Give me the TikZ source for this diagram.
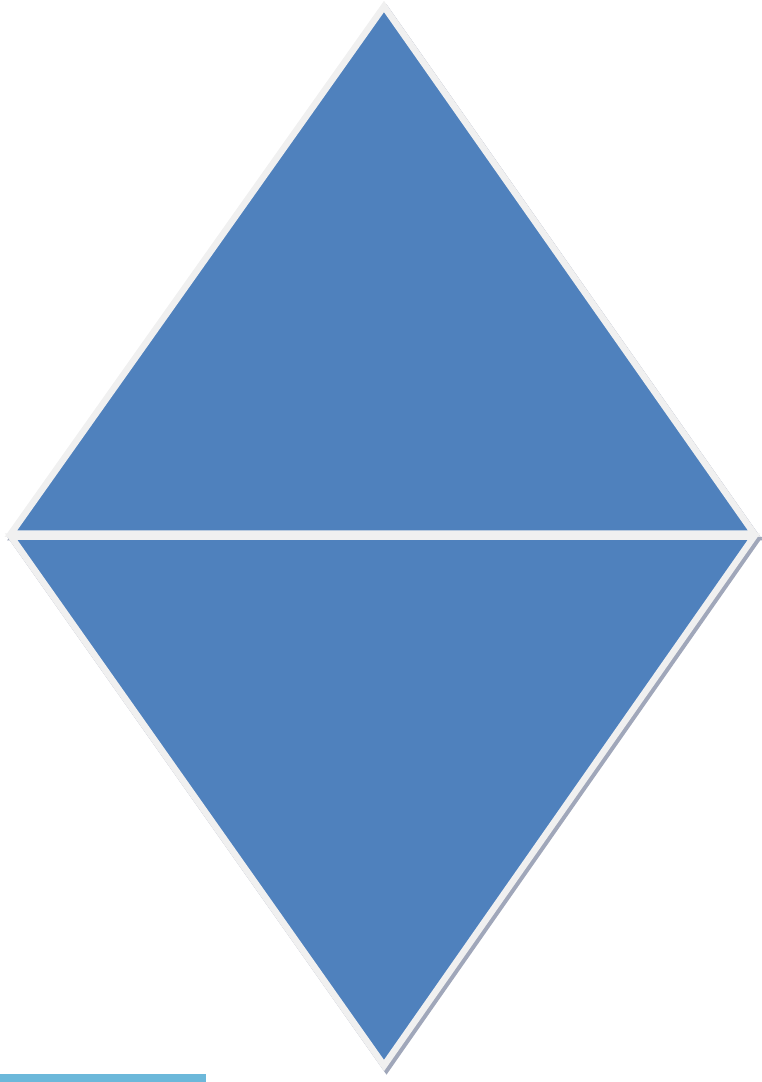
\documentclass[tikz,border=0pt]{standalone}
\definecolor{triblue}{RGB}{79,129,189}
\definecolor{triedge}{RGB}{240,240,240}
\definecolor{trishadow}{RGB}{160,167,186}
\definecolor{barblue}{RGB}{108,184,218}
\begin{document}
\begin{tikzpicture}[x=1pt,y=-1pt,
  tri/.style={fill=triblue,draw=triedge,line width=6.5pt,line join=miter,miter limit=10},
  trishade/.style={fill=trishadow,draw=trishadow,line width=6.5pt,line join=miter,miter limit=10,
    transform canvas={xshift=2.5pt,yshift=-3.5pt}}]
\useasboundingbox (0,0) rectangle (762,1082);
% top triangle corners
\coordinate (tA) at (384,6.5);
\coordinate (tL) at (11,533.5);
\coordinate (tR) at (754,533.5);
% bottom triangle corners
\coordinate (bL) at (11,536.5);
\coordinate (bR) at (754,536.5);
\coordinate (bA) at (384,1065.5);
% top triangle with shadow
\draw[trishade] (tA) -- (tR) -- (tL) -- cycle;
\draw[tri] (tA) -- (tR) -- (tL) -- cycle;
% bottom triangle with shadow
\draw[trishade] (bL) -- (bR) -- (bA) -- cycle;
\draw[tri] (bL) -- (bR) -- (bA) -- cycle;
% bottom bar
\fill[barblue] (0,1074) rectangle (206,1082);
\end{tikzpicture}
\end{document}
